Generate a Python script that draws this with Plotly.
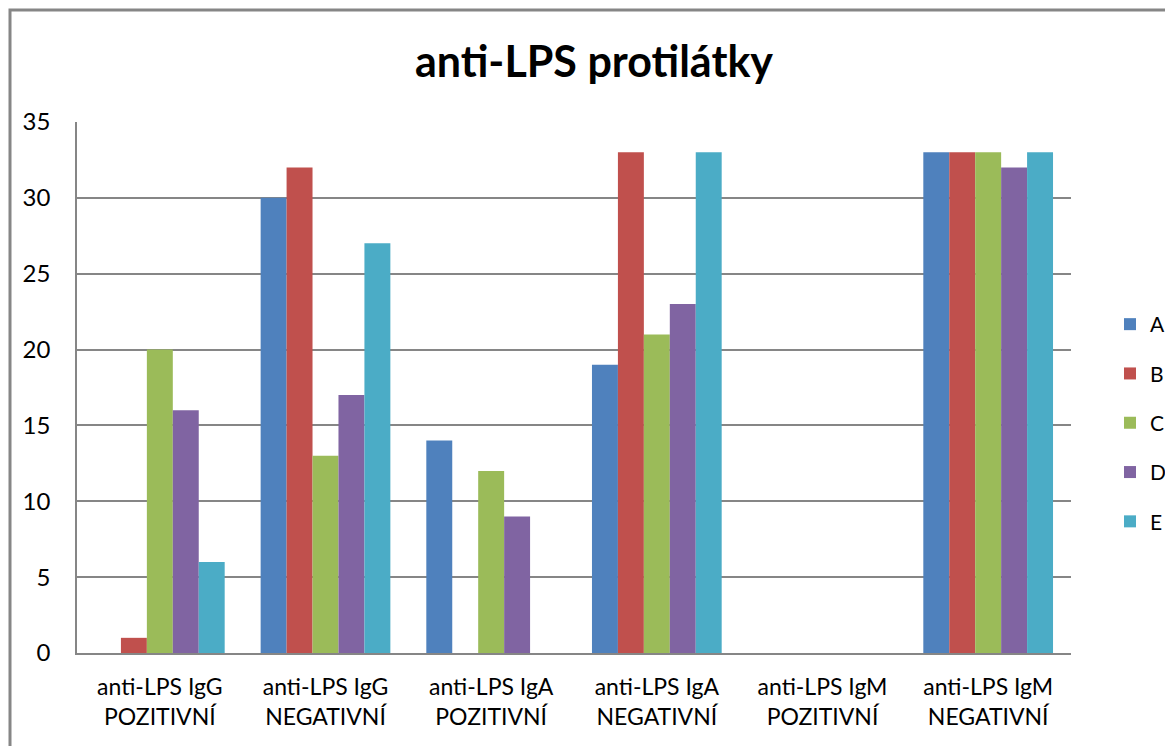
import plotly.graph_objects as go

categories = [
    "anti-LPS IgG<br>POZITIVNÍ",
    "anti-LPS IgG<br>NEGATIVNÍ",
    "anti-LPS IgA<br>POZITIVNÍ",
    "anti-LPS IgA<br>NEGATIVNÍ",
    "anti-LPS IgM<br>POZITIVNÍ",
    "anti-LPS IgM<br>NEGATIVNÍ",
]
series_names = ["A", "B", "C", "D", "E"]
values_A = [0, 30, 14, 19, 0, 33]
values_B = [1, 32, 0, 33, 0, 33]
values_C = [20, 13, 12, 21, 0, 33]
values_D = [16, 17, 9, 23, 0, 32]
values_E = [6, 27, 0, 33, 0, 33]
colors = ["#4F81BD", "#C0504D", "#9BBB59", "#8064A2", "#4BACC6"]
y_ticks = [0, 5, 10, 15, 20, 25, 30, 35]

FONT = "Lato, Open Sans, sans-serif"

fig = go.Figure()
for name, vals, col in zip(series_names, [values_A, values_B, values_C, values_D, values_E], colors):
    fig.add_trace(go.Bar(name=name, x=categories, y=vals, marker=dict(color=col, line=dict(width=0)),
                         legendgroup=name))

L, R, T, B = 77, 94, 122, 93
W, H = 1165, 746
pw, ph = W - L - R, H - T - B

fig.update_layout(
    width=W, height=H, autosize=False,
    margin=dict(l=L, r=R, t=T, b=B, autoexpand=False),
    paper_bgcolor="white", plot_bgcolor="white",
    barmode="group", bargap=0.217, bargroupgap=0,
    font=dict(family=FONT, size=20, color="black"),
    title=dict(text="<b>anti-LPS protilátky</b>", font=dict(family=FONT, size=43, color="black"),
               x=(594 - L) / pw, xref="paper", xanchor="center",
               y=1 - 62 / H, yref="container", yanchor="middle"),
    xaxis=dict(showline=True, linecolor="#868686", linewidth=1.5, ticks="", showgrid=False,
               tickfont=dict(size=23), ticklabelstandoff=13, fixedrange=True),
    yaxis=dict(range=[0, 35], tickvals=y_ticks, showgrid=True, gridcolor="#868686", gridwidth=1.5,
               showline=True, linecolor="#868686", linewidth=1.5, ticks="", zeroline=False,
               tickfont=dict(size=24), ticklabelstandoff=20, fixedrange=True),
    legend=dict(x=(1110 - L) / pw, xanchor="left", y=1 - (304 - T) / ph, yanchor="top",
                font=dict(size=21), tracegroupgap=19, bgcolor="rgba(0,0,0,0)"),
    shapes=[dict(type="rect", xref="paper", yref="paper",
                 x0=(10 - L) / pw, y0=-0.5, x1=1.3, y1=1 + (T - 10) / ph,
                 line=dict(color="#868686", width=3), layer="below")],
    showlegend=True,
)

fig.write_html(
    "out.html",
    config={"responsive": False, "displayModeBar": False},
    post_script="document.body.style.margin='0';document.body.style.overflow='hidden';"
                "Plotly.relayout('{plot_id}', {width: 1165, height: 746});",
)
